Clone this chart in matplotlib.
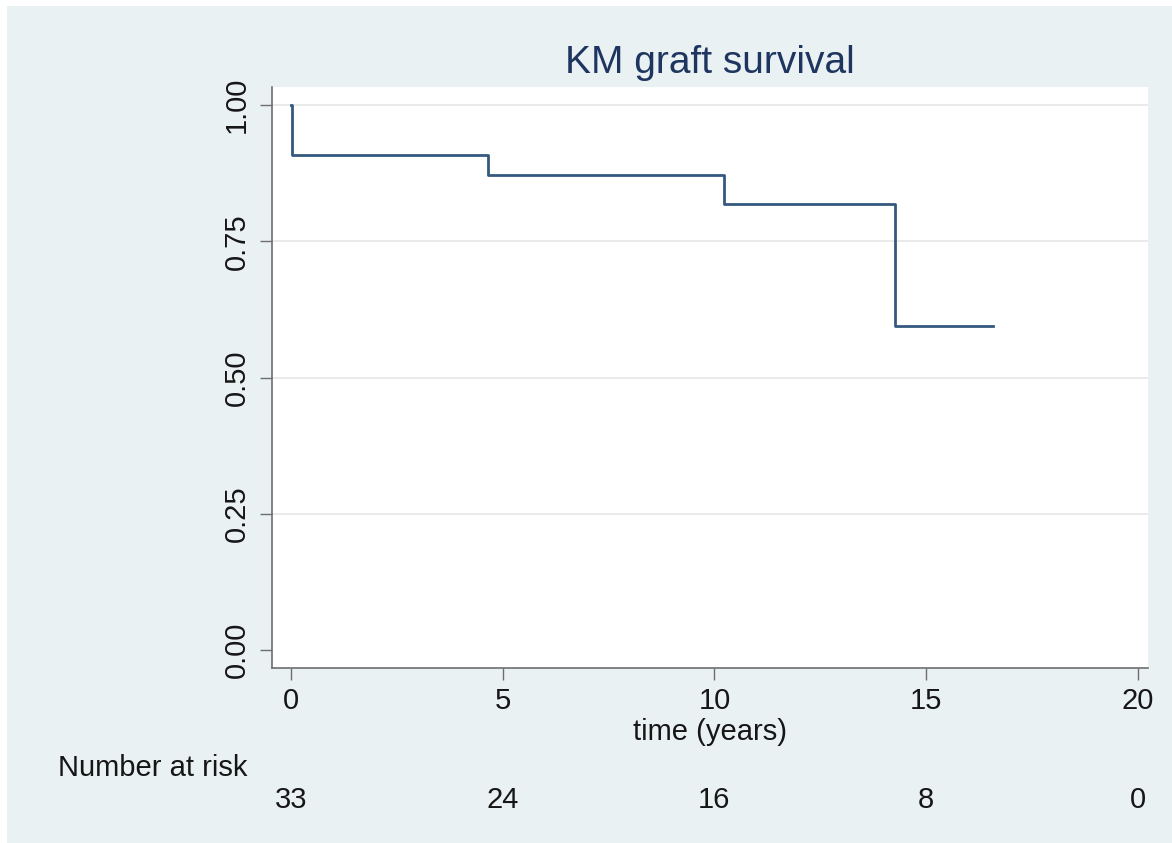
import matplotlib
matplotlib.use("Agg")
import matplotlib.pyplot as plt
from matplotlib.patches import Rectangle

plt.rcParams['font.family'] = ['Liberation Sans', 'DejaVu Sans']

# Data
times = [0, 0.03, 4.65, 10.22, 14.26, 16.58]
surv = [1.0, 0.909, 0.872, 0.819, 0.595, 0.595]
xticks = [0, 5, 10, 15, 20]
yticks = [0.00, 0.25, 0.50, 0.75, 1.00]
at_risk = [33, 24, 16, 8, 0]

bg = '#eaf1f3'
navy = '#34597f'
gray = '#6e6e6e'
fs = 21

fig = plt.figure(figsize=(11.72, 8.43), dpi=100)
fig.patch.set_facecolor('white')
fig.patches.append(Rectangle((7 / 1172, -0.01), 1, 1.01 - 6 / 843, transform=fig.transFigure,
                             facecolor=bg, edgecolor='none', zorder=-10))

ax = fig.add_axes([272 / 1172, 1 - 668 / 843, (1148 - 272) / 1172, (668 - 87) / 843])
ax.set_facecolor('white')

ax.step(times, surv, where='post', color=navy, lw=2.0, zorder=3)

ax.set_xlim(-0.449, 20.24)
ax.set_ylim(-0.033, 1.033)
ax.set_xticks(xticks)
ax.set_yticks(yticks)
ax.set_yticklabels([f'{v:.2f}' for v in yticks], rotation=90, va='center')

for v in yticks[1:]:
    ax.axhline(v, color='#e9ebeb', lw=1.4, zorder=1)

for s in ['top', 'right']:
    ax.spines[s].set_visible(False)
for s in ['left', 'bottom']:
    ax.spines[s].set_color(gray)
    ax.spines[s].set_linewidth(1.2)

ax.tick_params(axis='both', direction='out', length=8.5, width=1.0, color=gray,
               labelsize=fs, labelcolor='#161616')
ax.tick_params(axis='y', pad=7)
ax.tick_params(axis='x', pad=5)

ax.set_title('KM graft survival', fontsize=28, color='#1e3560', pad=10)

ax.text(0.5, -0.110, 'time (years)', transform=ax.transAxes, ha='center', va='center',
        fontsize=fs, color='#161616')

fig.text(58 / 1172, 1 - 768 / 843, 'Number at risk', ha='left', va='center',
         fontsize=fs, color='#161616')
tr = ax.get_xaxis_transform()
for t, n in zip(xticks, at_risk):
    ax.text(t, -0.227, str(n), transform=tr, ha='center', va='center',
            fontsize=fs, color='#161616')

fig.savefig('out.png', dpi=100, facecolor=fig.get_facecolor())
